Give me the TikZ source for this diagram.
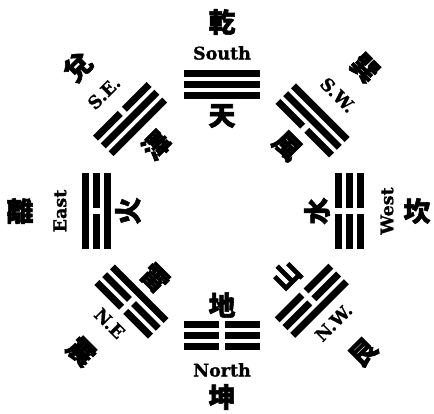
\documentclass[tikz,border=0pt]{standalone}
\usepackage{fontspec}
\newfontfamily\hanfont{Noto Sans CJK TC}[BoldFeatures={FakeBold=2}]
\newfontfamily\dirfont{DejaVu Serif}[BoldFeatures={FakeBold=1}]

\begin{document}
\begin{tikzpicture}[x=1pt, y=1pt,
  yao/.style={line width=7pt},
  han/.style={font=\hanfont\bfseries\fontsize{27}{27}\selectfont, inner sep=0pt},
  dir/.style={font=\dirfont\bfseries\fontsize{17.5}{17.5}\selectfont, inner sep=0pt}]
\useasboundingbox (-222,-203) rectangle (212,211);

% =================================================================================
% SOUTH: qian, three whole lines
% =================================================================================
\begin{scope}[rotate=0]
\draw[yao] (-38,115) -- (38,115);
\draw[yao] (-38,126) -- (38,126);
\draw[yao] (-38,137) -- (38,137);
\node[han] (tian)  at (0,95)  {天};
\node[dir] (south) at (0,158) {South};
\node[han] (qian)  at (0,189) {乾};
\end{scope}

% =================================================================================
% S.W.: xun
% =================================================================================
\begin{scope}[rotate=-45]
\draw[yao] (-38,117) -- (-3,117) (3,117) -- (38,117);
\draw[yao] (-38,128) -- (38,128);
\draw[yao] (-38,139) -- (38,139);
\node[han, rotate=-45] (feng) at (0,92)  {風};
\node[dir, rotate=-45] (sw)   at (0,164) {S.W.};
\node[han, rotate=-45] (xun)  at (0,202) {巽};
\end{scope}

% =================================================================================
% WEST: kan
% =================================================================================
\begin{scope}[rotate=-90]
\draw[yao] (-38,116) -- (-3,116) (3,116) -- (38,116);
\draw[yao] (-38,127) -- (-3,127) (3,127) -- (38,127);
\draw[yao] (-38,138) -- (-3,138) (3,138) -- (38,138);
\node[han, rotate=90] (shui) at (0,95)  {水};
\node[dir, rotate=90] (west) at (0,165) {West};
\node[han]            (kan)  at (0,195) {坎};
\end{scope}

% =================================================================================
% N.W.: gen
% =================================================================================
\begin{scope}[rotate=-135]
\draw[yao] (-38,116) -- (-3,116) (3,116) -- (38,116);
\draw[yao] (-38,127) -- (-3,127) (3,127) -- (38,127);
\draw[yao] (-38,138) -- (38,138);
\node[han, rotate=45] (shan) at (0,91)  {山};
\node[dir, rotate=45] (nw)   at (0,158) {N.W.};
\node[han, rotate=45] (gen)  at (0,200) {艮};
\end{scope}

% =================================================================================
% NORTH: kun, three broken lines
% =================================================================================
\begin{scope}[rotate=180]
\draw[yao] (-38,114) -- (-3,114) (3,114) -- (38,114);
\draw[yao] (-38,125) -- (-3,125) (3,125) -- (38,125);
\draw[yao] (-38,136) -- (-3,136) (3,136) -- (38,136);
\node[han] (di)    at (0,94)  {地};
\node[dir] (north) at (0,159) {North};
\node[han] (kun)   at (0,186) {坤};
\end{scope}

% =================================================================================
% N.E: zhen
% =================================================================================
\begin{scope}[rotate=135]
\draw[yao] (-38,117) -- (38,117);
\draw[yao] (-38,128) -- (-3,128) (3,128) -- (38,128);
\draw[yao] (-38,139) -- (-3,139) (3,139) -- (38,139);
\node[han, rotate=-45] (lei)  at (0,95)  {雷};
\node[dir, rotate=-45] (ne)   at (0,159) {N.E};
\node[han, rotate=-45] (zhen) at (0,199) {震};
\end{scope}

% =================================================================================
% EAST: li
% =================================================================================
\begin{scope}[rotate=90]
\draw[yao] (-38,114) -- (38,114);
\draw[yao] (-38,125) -- (-3,125) (3,125) -- (38,125);
\draw[yao] (-38,136) -- (38,136);
\node[han, rotate=90] (huo)  at (0,94)  {火};
\node[dir, rotate=90] (east) at (0,162) {East};
\node[han]            (li)   at (0,202) {離};
\end{scope}

% =================================================================================
% S.E.: dui
% =================================================================================
\begin{scope}[rotate=45]
\draw[yao] (-38,119) -- (38,119);
\draw[yao] (-38,130) -- (38,130);
\draw[yao] (-38,141) -- (-3,141) (3,141) -- (38,141);
\node[han, rotate=45] (ze)  at (0,93)  {澤};
\node[dir, rotate=45] (se)  at (0,167) {S.E.};
\node[han, rotate=45] (dui) at (0,204) {兌};
\end{scope}

\end{tikzpicture}
\end{document}
